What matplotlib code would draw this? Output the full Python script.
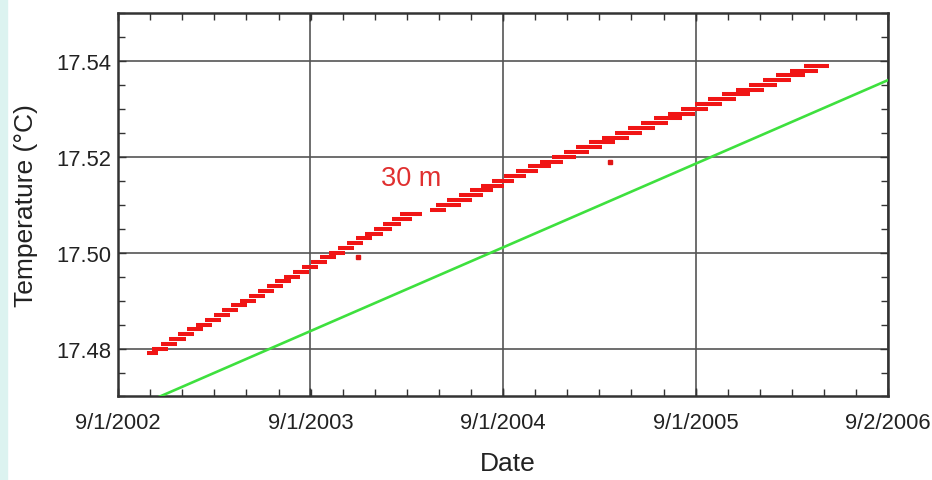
import matplotlib
matplotlib.use("Agg")
import matplotlib.pyplot as plt
from matplotlib.ticker import FixedLocator, MultipleLocator, FormatStrFormatter
from matplotlib.patches import Rectangle

plt.rcParams['font.family'] = ['Liberation Sans', 'DejaVu Sans']

# -----------------------------
# Data (time in decimal years, temperature in deg C)
# -----------------------------
# each quantised temperature level shows up as a horizontal run of samples
level_temp = [17.479, 17.480, 17.481, 17.482, 17.483, 17.484, 17.485, 17.486, 17.487, 17.488,
              17.489, 17.490, 17.491, 17.492, 17.493, 17.494, 17.495, 17.496, 17.497, 17.498,
              17.499, 17.500, 17.501, 17.502, 17.503, 17.504, 17.505, 17.506, 17.507, 17.508,
              17.509, 17.510, 17.511, 17.512, 17.513, 17.514, 17.515, 17.516, 17.517, 17.518,
              17.519, 17.520, 17.521, 17.522, 17.523, 17.524, 17.525, 17.526, 17.527, 17.528,
              17.529, 17.530, 17.531, 17.532, 17.533, 17.534, 17.535, 17.536, 17.537, 17.538,
              17.539]
run_start = [2002.817, 2002.843, 2002.889, 2002.931, 2002.978, 2003.024, 2003.071, 2003.118, 2003.165, 2003.206,
             2003.253, 2003.300, 2003.347, 2003.393, 2003.440, 2003.482, 2003.528, 2003.575, 2003.622, 2003.669,
             2003.715, 2003.762, 2003.809, 2003.856, 2003.902, 2003.949, 2003.996, 2004.043, 2004.089, 2004.131,
             2004.287, 2004.318, 2004.375, 2004.437, 2004.495, 2004.552, 2004.609, 2004.671, 2004.734, 2004.796,
             2004.858, 2004.921, 2004.983, 2005.045, 2005.113, 2005.180, 2005.248, 2005.315, 2005.383, 2005.450,
             2005.523, 2005.591, 2005.663, 2005.731, 2005.804, 2005.876, 2005.944, 2006.017, 2006.084, 2006.157,
             2006.230]
run_end = [2002.874, 2002.926, 2002.972, 2003.019, 2003.061, 2003.108, 2003.154, 2003.201, 2003.248, 2003.289,
           2003.336, 2003.383, 2003.430, 2003.476, 2003.523, 2003.565, 2003.611, 2003.658, 2003.705, 2003.752,
           2003.798, 2003.845, 2003.892, 2003.939, 2003.985, 2004.043, 2004.089, 2004.136, 2004.193, 2004.245,
           2004.370, 2004.448, 2004.505, 2004.562, 2004.614, 2004.671, 2004.723, 2004.786, 2004.848, 2004.915,
           2004.978, 2005.045, 2005.113, 2005.180, 2005.248, 2005.321, 2005.388, 2005.456, 2005.523, 2005.596,
           2005.663, 2005.731, 2005.804, 2005.876, 2005.949, 2006.022, 2006.089, 2006.162, 2006.235, 2006.302,
           2006.360]

# isolated samples off the main band
outlier_time = [2003.913, 2005.222]
outlier_temp = [17.499, 17.519]

# linear reference trend (green)
trend_time = [2002.666, 2006.666]
trend_temp = [17.4662, 17.5360]

x_ticks = [2002.666, 2003.666, 2004.666, 2005.666, 2006.666]
x_labels = ["9/1/2002", "9/1/2003", "9/1/2004", "9/1/2005", "9/2/2006"]
y_ticks = [17.48, 17.50, 17.52, 17.54]

# -----------------------------
# Figure
# -----------------------------
fig = plt.figure(figsize=(9.32, 4.81), dpi=100)
fig.patches.append(Rectangle((0, 0), 7 / 932, 1, transform=fig.transFigure,
                             color='#dcf3f0', zorder=0))
ax = fig.add_axes([0.1266, 0.1736, 0.8262, 0.7973])

ax.grid(True, which='major', color='#555555', linewidth=1.2)
ax.set_axisbelow(True)

ax.plot(trend_time, trend_temp, color='#3ee03e', linewidth=1.9, zorder=3)
ax.hlines(level_temp, run_start, run_end, colors='#f01515', linewidth=2.9, zorder=4)
ax.plot(outlier_time, outlier_temp, 's', color='#e01515', markersize=2.2, zorder=4)

ax.text(2004.19, 17.5155, "30 m", color='#e03030', fontsize=19.5, ha='center', va='center')

ax.set_xlim(x_ticks[0], x_ticks[-1])
ax.set_ylim(17.47, 17.55)
ax.xaxis.set_major_locator(FixedLocator(x_ticks))
ax.set_xticklabels(x_labels)
ax.xaxis.set_minor_locator(MultipleLocator(1 / 6))
ax.yaxis.set_major_locator(FixedLocator(y_ticks))
ax.yaxis.set_major_formatter(FormatStrFormatter('%.2f'))
ax.yaxis.set_minor_locator(MultipleLocator(0.005))

ax.tick_params(which='both', direction='in', top=True, right=True, colors='#333333',
               labelcolor='#222222', labelsize=15.8)
ax.tick_params(which='major', length=6, width=1)
ax.tick_params(which='minor', length=5, width=1)
ax.tick_params(axis='x', pad=11)
ax.tick_params(axis='y', pad=5)

for sp in ax.spines.values():
    sp.set_linewidth(1.8)
    sp.set_color('#333333')

ax.set_xlabel("Date", fontsize=19, color='#222222')
ax.set_ylabel("Temperature (°C)", fontsize=19, color='#222222')
ax.xaxis.set_label_coords(0.506, -0.142)
ax.yaxis.set_label_coords(-0.104, 0.5)

fig.savefig("out.png", dpi=100)
